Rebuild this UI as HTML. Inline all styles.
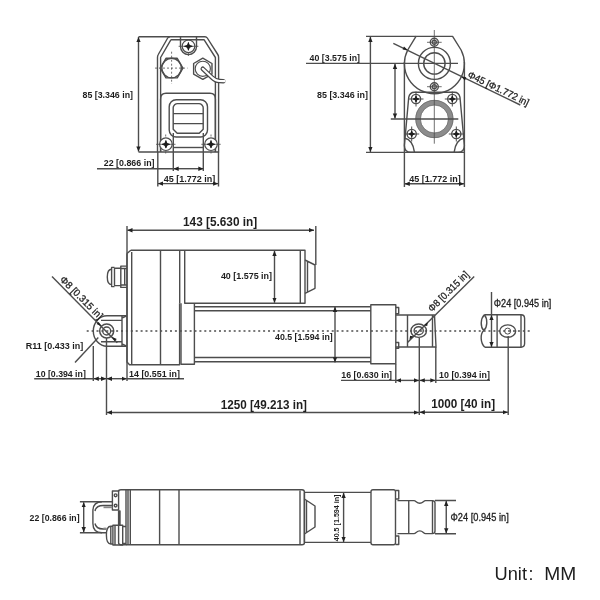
<!DOCTYPE html>
<html><head><meta charset="utf-8">
<style>
html,body{margin:0;padding:0;background:#fff;width:600px;height:600px;overflow:hidden}
svg{display:block}
text{font-family:"Liberation Sans",sans-serif;fill:#1e1e1e}
.l{stroke:#1e1e1e;stroke-width:0.3px}
svg{will-change:transform}
.b{font-weight:bold}
</style></head><body>
<svg width="600" height="600" viewBox="0 0 600 600">
<defs>
<marker id="a" viewBox="0 0 10 10" refX="10" refY="5" markerWidth="5.2" markerHeight="5.2" markerUnits="userSpaceOnUse" orient="auto-start-reverse"><path d="M0,0.8 L10,5 L0,9.2 z" fill="#222"/></marker>
</defs>
<rect width="600" height="600" fill="#fff"/>
<g fill="none" stroke="#4d4d4d" stroke-width="1.4" stroke-linejoin="round">


<path d="M170 36.7 L205 36.7 Q206.5 36.7 207.3 38 L217.8 54.5 Q218.6 55.8 218.6 57.5 L218.6 152 L157.5 152 L157.5 57.5 Q157.5 55.8 158.3 54.5 L167.7 38 Q168.5 36.7 170 36.7 Z"/>
<path d="M171 39.7 L204 39.7 L215.4 57.5 L215.4 152 M160.6 152 L160.6 57.5 L171 39.7"/>
<path d="M180.5 36.7 V46.6 A8 8 0 0 0 196.5 46.6 V36.7"/>
<circle cx="188.5" cy="46.3" r="6.3" stroke-width="1.2"/>
<path d="M182.90 68.10 L177.25 77.89 L165.95 77.89 L160.30 68.10 L165.95 58.31 L177.25 58.31 Z"/>
<circle cx="171.6" cy="68.1" r="9.8"/>
<path d="M202.80 79.40 L193.62 74.10 L193.62 63.50 L202.80 58.20 L211.98 63.50 L211.98 74.10 Z"/>
<circle cx="202.8" cy="68.8" r="7.6" stroke-width="1.1"/>
<path d="M160.6 152 V99 Q160.6 93.3 166 93.3 H210 Q215.4 93.3 215.4 99 V152"/>
<rect x="169.2" y="99.7" width="38.3" height="37.3" rx="7"/>
<path d="M177.5 103.6 H199 Q200.5 103.6 201.5 104.6 L202.3 105.4 Q203.2 106.3 203.2 107.8 V129.2 L199.2 133.2 H177.2 L173.2 129.2 V107.8 Q173.2 106.3 174.1 105.4 L174.9 104.6 Q175.9 103.6 177.5 103.6 Z"/>
<path d="M173.2 113.6 H203.2 M173.2 123.6 H203.2"/>
<path d="M173.5 147.5 H203.5"/>
<circle cx="165.9" cy="144.2" r="6.3" fill="#fff" stroke-width="1.2"/>
<circle cx="211" cy="144.2" r="6.3" fill="#fff" stroke-width="1.2"/>


<g stroke-width="0.8"><path d="M155 68.1 H187.5 M171.6 51.7 V84" stroke-dasharray="2 2"/><path d="M156 144.3 H175.5 M201.3 144.3 H220.7"/><path d="M165.7 134.5 V136.5 M165.7 151.5 V153.5 M211 134.5 V136.5 M211 151.5 V153.5 M188.4 53 V56 M178.6 46.3 H198.4"/></g>
<path d="M202.8 68.8 L211.8 77.3 Q215.3 80.8 219.5 81 L223.3 81.2" stroke="#474747" stroke-width="4.6" stroke-linecap="round"/>
<path d="M202.8 68.8 L211.8 77.3 Q215.3 80.8 219.5 81 L224.5 81.2" stroke="#fff" stroke-width="2.2" stroke-linecap="round"/>

<path d="M138.5 36.7 H170 M138.5 152 H157.5"/>
<path d="M138.5 37 V151.6" marker-start="url(#a)" marker-end="url(#a)"/>
<path d="M173.3 133 V171 M203.3 133 V171"/>
<path d="M97 168.7 H173.5"/>
<path d="M173.5 168.7 H203.5" marker-start="url(#a)" marker-end="url(#a)"/>
<path d="M157.8 152 V186.5 M218.5 152 V186.5"/>
<path d="M158 183.6 H218.3" marker-start="url(#a)" marker-end="url(#a)"/>


<circle cx="434.4" cy="119" r="16.35" stroke="#8c8c8c" stroke-width="5.2"/>
<circle cx="434.4" cy="119" r="18.7" stroke="#666" stroke-width="0.7"/>
<circle cx="434.4" cy="119" r="14" stroke="#666" stroke-width="0.7"/>
<path d="M416 36.4 L452.6 36.4 L461.1 50 A30 30 0 1 1 407.7 50 Z"/>
<path d="M366 36.4 H416"/>
<path d="M370.4 36.8 V152" marker-start="url(#a)" marker-end="url(#a)"/>
<path d="M366 152.4 H464.3"/>
<path d="M306 63.4 H458"/>
<path d="M395 63.8 V118.6" marker-start="url(#a)" marker-end="url(#a)"/>
<path d="M390.8 119 H458.3"/>
<circle cx="434.4" cy="63.4" r="16"/>
<circle cx="434.4" cy="63.4" r="10.7"/>
<circle cx="434.3" cy="42.3" r="4" fill="#fff"/><circle cx="434.3" cy="42.3" r="2"/>
<circle cx="434.3" cy="86.7" r="4" fill="#fff"/><circle cx="434.3" cy="86.7" r="2"/>
<path d="M414.5 92.3 H454.2 Q459 92.3 460 97.5 L464.4 145.5 Q464.4 152.3 458 152.3 H410.7 Q404.4 152.3 404.4 145.5 L408.7 97.5 Q409.7 92.3 414.5 92.3 Z"/>
<path d="M404.4 62 V187 M464.4 62 V187"/>
<path d="M404.5 138 Q413 140 414.5 152.3 M464.1 138 Q455.6 140 454.1 152.3"/>
<circle cx="416" cy="99" r="4.6" fill="#fff"/><circle cx="452.3" cy="99" r="4.6" fill="#fff"/>
<circle cx="411.7" cy="134" r="4.6" fill="#fff"/><circle cx="456.3" cy="134" r="4.6" fill="#fff"/>
<path d="M404.6 183.8 H464" marker-start="url(#a)" marker-end="url(#a)"/>
<path d="M393.3 43.3 L520.3 105"/>

<g stroke-width="0.8"><path d="M434.3 30 V143.7"/><path d="M427 42.3 H441.7 M427 86.7 H441.7"/></g><g stroke-width="1"><path d="M408.5 99 H423.5 M416 91.5 V106.5 M444.8 99 H459.8 M452.3 91.5 V106.5 M404.2 134 H419.2 M411.7 126.5 V141.5 M448.8 134 H463.8 M456.3 126.5 V141.5"/></g>

<path d="M127.3 230.2 H314" marker-start="url(#a)" marker-end="url(#a)"/>
<path d="M127 226 V381"/>
<path d="M315.8 226 V265"/>
<path d="M130.8 250.3 H305 V303.3 H184.2 M127 253.5 L130.8 250.3 M127 253.5 V362 L129.5 364.7 H179.6 V303.3"/>
<path d="M131.7 252 V364.5 M160.5 250.3 V364.7 M179.7 250.3 V303.3 M184.7 250.3 V303.3 M300.3 250.3 V303.3"/>
<path d="M305 260 L315 265 V288.3 L305 293.3 M307.5 261.2 V292"/>
<path d="M274.5 250.8 V302.8" marker-start="url(#a)" marker-end="url(#a)"/>
<path d="M127 266.1 H120.8 V287.4 H127 M120.8 268.5 H127 M120.8 285 H127 M124.7 268.5 V285 M120.8 268.3 H114.5 V285.6 H120.8 M114.5 267.4 H111.6 V286.6 H114.5 M111.6 269.2 C108.6 269.2 107.3 271.5 107.3 276.9 C107.3 282.3 108.6 284.6 111.6 284.6"/>
<path d="M181 303.3 V364.2 H194.4 V303.3"/>
<path d="M194.4 306.8 H370.8 M194.4 310.8 H370.8 M194.4 357.5 H370.8 M194.4 361.7 H370.8"/>
<path d="M370.8 304.7 H395.8 V363.7 H370.8 Z"/>
<path d="M395.8 307.5 H398.7 V313.7 H395.8 M395.8 342.5 H398.7 V348.3 H395.8"/>
<path d="M395.8 315 H434.5 L436 347 H395.8 M407.5 315 V347 M432.5 315 V347"/>
<ellipse cx="418.7" cy="330.7" rx="7.8" ry="6.7"/>
<ellipse cx="418.7" cy="330.7" rx="4.6" ry="4"/>
<path d="M335 306.8 V362.4" marker-start="url(#a)" marker-end="url(#a)"/>
<path d="M126.7 315.8 H107 A13.7 15.2 0 0 0 107 346.2 H126.7"/>
<path d="M101 320.4 H122 M101 341.7 H122 M122 315.8 V346.2 M122 318 L126.7 315.8 M122 344 L126.7 346.2"/>
<circle cx="106.7" cy="331" r="7" stroke-width="1.5"/>
<circle cx="106.7" cy="331" r="4"/>
<path d="M52 276.5 L117.3 342.7"/>
<path d="M75 362.5 L98.3 337.5"/>
<path d="M407.5 342.5 L474.2 276.5"/>
<path d="M93.3 346 V381 M106.5 338 V415"/>
<path d="M34.2 378.7 H93.3 M127 378.7 H184"/>
<path d="M93.6 378.7 H106.2" marker-start="url(#a)" marker-end="url(#a)"/>
<path d="M106.8 378.7 H126.7" marker-start="url(#a)" marker-end="url(#a)"/>
<path d="M395.8 364 V383 M419.3 338 V415 M435.8 347 V383"/>
<path d="M341 380.4 H395.8 M435.8 380.4 H490"/>
<path d="M396.1 380.4 H419" marker-start="url(#a)" marker-end="url(#a)"/>
<path d="M419.6 380.4 H435.5" marker-start="url(#a)" marker-end="url(#a)"/>
<path d="M106.8 412.5 H419" marker-start="url(#a)" marker-end="url(#a)"/>
<path d="M419.6 412.3 H507.9" marker-start="url(#a)" marker-end="url(#a)"/>
<path d="M508.2 336 V415"/>
<path d="M484.4 314.75 H521 Q524.6 314.75 524.6 318.5 V343.6 Q524.6 347.2 521 347.2 H484.8"/>
<path d="M484.4 314.75 C480.2 319 480.3 327 483.8 330.6 C487.6 327 487.8 319 484.4 314.75 M483.8 330.6 C480 334 480.3 343 484.8 347.2"/>
<path d="M497.1 314.75 V347.2 M521 314.75 V347.2"/>
<ellipse cx="507.7" cy="331.1" rx="8" ry="6.2"/>
<circle cx="507.7" cy="331.1" r="3" stroke-width="1"/>
<path d="M491.5 292 V314.5"/>
<path d="M491.5 315 V347" marker-start="url(#a)" marker-end="url(#a)"/>
<path d="M86.7 331 H532.5" stroke-dasharray="2 2.9"/>


<path d="M126 489.8 H302 Q304.4 489.8 304.4 492 V542.7 Q304.4 544.7 302 544.7 H126"/>
<path d="M118.6 491.5 Q118.6 489.8 121 489.8 H126 V544.7 H121 Q118.6 544.7 118.6 542.7 V511 H120 V526"/>
<path d="M128 489.8 V544.7 M130.3 489.8 V544.7 M159.6 489.8 V544.7 M179 489.8 V544.7 M304.4 492.4 V542.4 M300 490.5 V544.5"/>
<path d="M304.4 499 L315 506 V527 L304.4 534 M306.5 500.4 V532.6"/>
<path d="M304.4 492.4 H371 M304.4 542.4 H371"/>
<rect x="371" y="489.8" width="24.5" height="54.9" rx="2"/>
<path d="M395.5 490.5 H398.75 V499 H395.5 M395.5 536 H398.75 V544.5 H395.5"/>
<path d="M397.5 500.6 H414 C416 500.6 416.5 503.3 419.8 503.3 C423 503.3 423.5 500.6 425.5 500.6 H432.5 Q435 500.6 435 503 V531 Q435 533.6 432.5 533.6 H425.5 C423.5 533.6 423 530.9 419.8 530.9 C416.5 530.9 416 533.6 414 533.6 H397.5 M408.75 500.6 V533.6 M432.5 500.6 V533.6"/>
<path d="M435 500.5 H456 M435 533.75 H456"/>
<path d="M446.25 500.8 V533.4" marker-start="url(#a)" marker-end="url(#a)"/>
<path d="M343.6 492.8 V542" marker-start="url(#a)" marker-end="url(#a)"/>
<path d="M112.4 491 H118.6 V510 H112.4 Z"/>
<circle cx="115.6" cy="495.3" r="1.4"/><circle cx="115.6" cy="505.6" r="1.4"/>
<path d="M112.4 501.8 H102 Q92.9 501.8 92.9 511 V523.5 Q92.9 532.7 102 532.7 H106.4"/>
<path d="M95 511 Q96 505.5 103.2 505.5 H112.4 M95 523.5 Q96 529 103.2 529 H106.4"/>
<path d="M112.4 507.3 H103.5" stroke="#888" stroke-width="1.8"/>
<path d="M106.4 528.5 H103.5" stroke="#888" stroke-width="1.8"/>
<path d="M112.9 526.2 H110.8 Q106.4 526.2 106.4 535 Q106.4 544 110.8 544 H112.9 M110.8 526.2 V544 M112.9 525.2 V545 H122.7 V525.2 Z M122.7 526.5 H126 M122.7 543.5 H126 M115 525.2 V545"/>
<path d="M79.9 501.8 H102 M79.9 532.7 H102"/>
<path d="M83.7 502.2 V532.3" marker-start="url(#a)" marker-end="url(#a)"/>

</g>
<g fill="#1e1e1e">
<path d="M188.40 41.90 L189.80 44.90 L192.80 46.30 L189.80 47.70 L188.40 50.70 L187.00 47.70 L184.00 46.30 L187.00 44.90 Z"/><path d="M187.90 42.40 h1 v7.80 h-1z M184.50 45.80 v1 h7.80 v-1z"/>
<path d="M165.90 140.10 L167.30 142.90 L170.10 144.30 L167.30 145.70 L165.90 148.50 L164.50 145.70 L161.70 144.30 L164.50 142.90 Z"/><path d="M165.40 140.60 h1 v7.40 h-1z M162.20 143.80 v1 h7.40 v-1z"/>
<path d="M211.00 140.10 L212.40 142.90 L215.20 144.30 L212.40 145.70 L211.00 148.50 L209.60 145.70 L206.80 144.30 L209.60 142.90 Z"/><path d="M210.50 140.60 h1 v7.40 h-1z M207.30 143.80 v1 h7.40 v-1z"/>
<path d="M416.00 95.60 L417.20 97.80 L419.40 99.00 L417.20 100.20 L416.00 102.40 L414.80 100.20 L412.60 99.00 L414.80 97.80 Z"/><path d="M415.50 96.10 h1 v5.80 h-1z M413.10 98.50 v1 h5.80 v-1z"/>
<path d="M452.30 95.60 L453.50 97.80 L455.70 99.00 L453.50 100.20 L452.30 102.40 L451.10 100.20 L448.90 99.00 L451.10 97.80 Z"/><path d="M451.80 96.10 h1 v5.80 h-1z M449.40 98.50 v1 h5.80 v-1z"/>
<path d="M411.70 130.60 L412.90 132.80 L415.10 134.00 L412.90 135.20 L411.70 137.40 L410.50 135.20 L408.30 134.00 L410.50 132.80 Z"/><path d="M411.20 131.10 h1 v5.80 h-1z M408.80 133.50 v1 h5.80 v-1z"/>
<path d="M456.30 130.60 L457.50 132.80 L459.70 134.00 L457.50 135.20 L456.30 137.40 L455.10 135.20 L452.90 134.00 L455.10 132.80 Z"/><path d="M455.80 131.10 h1 v5.80 h-1z M453.40 133.50 v1 h5.80 v-1z"/>
</g>
<g fill="#1e1e1e"><path d="M101.7 326.3 l-5.2 -2.2 l2.2 -2.2 z"/><path d="M111.6 336.7 l5.2 2.2 l-2.2 2.2 z"/><path d="M413.5 336.5 l-4 3 l0.6 -3.8 z"/><path d="M423.8 325.3 l4 -3 l-0.6 3.8 z"/><path d="M407.6 50 L402.6 49.5 L404 46.4 z"/><path d="M461.3 76.8 L466.3 77.3 L464.9 80.4 z"/></g>
<text class="b" x="82.5" y="98" font-size="9.2" textLength="50.5" lengthAdjust="spacingAndGlyphs">85 [3.346 in]</text>
<text class="b" x="103.8" y="166" font-size="9" textLength="50.7" lengthAdjust="spacingAndGlyphs">22 [0.866 in]</text>
<text class="b" x="163.8" y="181.9" font-size="9.2" textLength="51.5" lengthAdjust="spacingAndGlyphs">45 [1.772 in]</text>
<text class="b" x="309.6" y="61" font-size="9.2" textLength="50.4" lengthAdjust="spacingAndGlyphs">40 [3.575 in]</text>
<text class="b" x="317" y="98" font-size="9.2" textLength="51" lengthAdjust="spacingAndGlyphs">85 [3.346 in]</text>
<text class="b" x="409.2" y="181.7" font-size="9.2" textLength="51.6" lengthAdjust="spacingAndGlyphs">45 [1.772 in]</text>
<text class="l" x="0" y="0" font-size="9.7" transform="translate(466.9 76.9) rotate(25.8)" textLength="67" lengthAdjust="spacingAndGlyphs">Φ45 [Φ1.772 in]</text>
<text class="b" x="183" y="225.8" font-size="12" textLength="74.2" lengthAdjust="spacingAndGlyphs">143 [5.630 in]</text>
<text class="b" x="220.9" y="279" font-size="8.8" textLength="51.1" lengthAdjust="spacingAndGlyphs">40 [1.575 in]</text>
<text class="b" x="275" y="340" font-size="9" textLength="57.7" lengthAdjust="spacingAndGlyphs">40.5 [1.594 in]</text>
<text class="b" x="25.8" y="349.2" font-size="9" textLength="57.5" lengthAdjust="spacingAndGlyphs">R11 [0.433 in]</text>
<text class="b" x="35.8" y="376.7" font-size="9" textLength="50" lengthAdjust="spacingAndGlyphs">10 [0.394 in]</text>
<text class="b" x="129" y="377.3" font-size="9" textLength="51" lengthAdjust="spacingAndGlyphs">14 [0.551 in]</text>
<text class="b" x="341.3" y="378" font-size="9" textLength="50.7" lengthAdjust="spacingAndGlyphs">16 [0.630 in]</text>
<text class="b" x="439" y="378" font-size="9" textLength="51" lengthAdjust="spacingAndGlyphs">10 [0.394 in]</text>
<text class="b" x="220.7" y="408.5" font-size="12.5" textLength="86.3" lengthAdjust="spacingAndGlyphs">1250 [49.213 in]</text>
<text class="b" x="431.2" y="408" font-size="12.5" textLength="64" lengthAdjust="spacingAndGlyphs">1000 [40 in]</text>
<text class="l" x="493.8" y="306.7" font-size="10.2" textLength="57.5" lengthAdjust="spacingAndGlyphs">Φ24 [0.945 in]</text>
<text class="l" x="0" y="0" font-size="10" transform="translate(59.3 280.2) rotate(45)" textLength="56" lengthAdjust="spacingAndGlyphs">Φ8 [0.315 in]</text>
<text class="l" x="0" y="0" font-size="10" transform="translate(431.9 312.4) rotate(-44.7)" textLength="53" lengthAdjust="spacingAndGlyphs">Φ8 [0.315 in]</text>
<text class="b" x="29.6" y="521" font-size="9" textLength="50" lengthAdjust="spacingAndGlyphs">22 [0.866 in]</text>
<text class="l" x="450.5" y="521.25" font-size="10" textLength="58.2" lengthAdjust="spacingAndGlyphs">Φ24 [0.945 in]</text>
<text class="b" x="0" y="0" font-size="7.6" transform="translate(339.2 541.3) rotate(-90)" textLength="46.8" lengthAdjust="spacingAndGlyphs">40.5 [1.594 in]</text>
<text x="494.5" y="579.8" font-size="17.8" textLength="32.5" lengthAdjust="spacingAndGlyphs" fill="#1a1a1a">Unit</text>
<text x="528.6" y="579.8" font-size="17.8" fill="#1a1a1a">:</text>
<text x="544.3" y="579.8" font-size="17.8" textLength="32" lengthAdjust="spacingAndGlyphs" fill="#1a1a1a">MM</text>
</svg>
</body></html>
